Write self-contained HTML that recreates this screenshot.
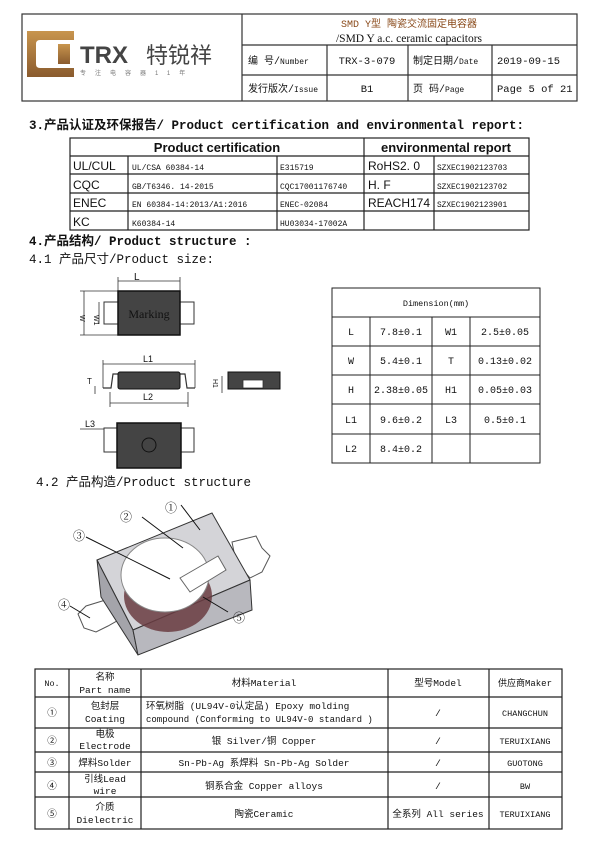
<!DOCTYPE html>
<html><head><meta charset="utf-8"><style>
body{margin:0;background:#fff;}
svg{display:block;}
text{font-family:"Liberation Sans","Noto Sans CJK SC",sans-serif;fill:#111;}
text.m,.m text{font-family:"Liberation Mono","Noto Sans CJK SC",monospace;}
text.s,.s text{font-family:"Liberation Serif","Noto Serif CJK SC",serif;}
</style></head><body>
<svg width="600" height="842" viewBox="0 0 600 842" xmlns="http://www.w3.org/2000/svg">
<defs>
<linearGradient id="g" x1="0" y1="0" x2="0" y2="1"><stop offset="0" stop-color="#c8954e"/><stop offset="1" stop-color="#8a5b2e"/></linearGradient>
</defs>
<!-- header -->
<g stroke="#333" stroke-width="1.2" fill="none">
<rect x="22" y="14" width="555" height="87"/>
<line x1="242" y1="14" x2="242" y2="101"/>
<line x1="242" y1="45" x2="577" y2="45"/>
<line x1="242" y1="75" x2="577" y2="75"/>
<line x1="327" y1="45" x2="327" y2="101"/>
<line x1="408" y1="45" x2="408" y2="101"/>
<line x1="492" y1="45" x2="492" y2="101"/>
</g>
<rect x="27" y="31" width="47" height="46" fill="url(#g)"/>
<path d="M40 40 H74 V68 H40 Q36 68 36 64 V44 Q36 40 40 40Z" fill="#fff"/>
<rect x="58" y="44" width="12" height="20" fill="url(#g)"/>
<text x="80" y="63" font-size="24" font-weight="bold" style="fill:#444">TRX</text>
<text x="146" y="63" font-size="22" style="fill:#444">特锐祥</text>
<text x="80" y="75" font-size="6" style="fill:#777" letter-spacing="9">专注电容器11年</text>
<text x="409" y="27" font-size="10" text-anchor="middle" class="m" style="fill:#8a4a1a">SMD Y型 陶瓷交流固定电容器</text>
<text x="409" y="42" font-size="11.5" text-anchor="middle" class="s">/SMD Y a.c. ceramic capacitors</text>
<g class="m">
<text x="248" y="64" font-size="10">编  号/<tspan font-size="8">Number</tspan></text>
<text x="367" y="64" font-size="10.5" text-anchor="middle">TRX-3-079</text>
<text x="413" y="64" font-size="10">制定日期/<tspan font-size="8">Date</tspan></text>
<text x="497" y="64" font-size="10.5">2019-09-15</text>
<text x="248" y="92" font-size="10">发行版次/<tspan font-size="8">Issue</tspan></text>
<text x="367" y="92" font-size="10.5" text-anchor="middle">B1</text>
<text x="413" y="92" font-size="10">页  码/<tspan font-size="8">Page</tspan></text>
<text x="497" y="92" font-size="10.5">Page 5 of 21</text>
</g>

<!-- section 3 -->
<text x="29" y="129" font-size="12.5" font-weight="bold" class="m">3.产品认证及环保报告/ Product certification and environmental report:</text>
<g stroke="#222" stroke-width="1.2" fill="none">
<rect x="70" y="138" width="459" height="92"/>
<line x1="70" y1="156" x2="529" y2="156"/>
<line x1="70" y1="174" x2="529" y2="174"/>
<line x1="70" y1="193" x2="529" y2="193"/>
<line x1="70" y1="211" x2="529" y2="211"/>
<line x1="128" y1="156" x2="128" y2="230"/>
<line x1="277" y1="156" x2="277" y2="230"/>
<line x1="364" y1="138" x2="364" y2="230"/>
<line x1="434" y1="156" x2="434" y2="230"/>
</g>
<text x="217" y="152" font-size="13" font-weight="bold" text-anchor="middle">Product certification</text>
<text x="446" y="152" font-size="13" font-weight="bold" text-anchor="middle">environmental report</text>
<g font-size="12"><text x="73" y="170">UL/CUL</text><text x="73" y="189">CQC</text><text x="73" y="207">ENEC</text><text x="73" y="226">KC</text>
<text x="368" y="170">RoHS2. 0</text><text x="368" y="189">H. F</text><text x="368" y="207">REACH174</text></g>
<g font-size="8" class="m"><text x="132" y="170">UL/CSA 60384-14</text><text x="132" y="189">GB/T6346. 14-2015</text><text x="132" y="207">EN 60384-14:2013/A1:2016</text><text x="132" y="226">K60384-14</text>
<text x="280" y="170">E315719</text><text x="280" y="189">CQC17001176740</text><text x="280" y="207">ENEC-02084</text><text x="280" y="226">HU03034-17002A</text>
<text x="437" y="170" font-size="7.8">SZXEC1902123703</text><text x="437" y="189" font-size="7.8">SZXEC1902123702</text><text x="437" y="207" font-size="7.8">SZXEC1902123901</text></g>

<text x="29" y="245" font-size="12.5" font-weight="bold" class="m">4.产品结构/ Product structure :</text>
<text x="29" y="263" font-size="12.5" class="m">4.1 产品尺寸/Product size:</text>

<!-- drawings -->
<g stroke="#333" stroke-width="0.8" fill="none">
<line x1="118" y1="281" x2="180" y2="281"/><line x1="118" y1="277" x2="118" y2="291"/><line x1="180" y1="277" x2="180" y2="291"/>
<line x1="84" y1="291" x2="84" y2="335"/><line x1="80" y1="291" x2="118" y2="291"/><line x1="80" y1="335" x2="118" y2="335"/>
<line x1="99" y1="302" x2="99" y2="324"/>
<line x1="103" y1="364" x2="195" y2="364"/><line x1="103" y1="360" x2="103" y2="388"/><line x1="195" y1="360" x2="195" y2="388"/>
<line x1="110" y1="403" x2="188" y2="403"/><line x1="110" y1="392" x2="110" y2="407"/><line x1="188" y1="392" x2="188" y2="407"/>
<line x1="95" y1="386" x2="95" y2="394"/><line x1="222" y1="376" x2="222" y2="393"/>
<line x1="80" y1="429" x2="120" y2="429"/>
</g>
<text x="134" y="280" font-size="10">L</text>
<text x="80" y="315" font-size="7" transform="rotate(90 80 315)">W</text>
<text x="94" y="315" font-size="7" transform="rotate(90 94 315)">W1</text>
<text x="143" y="362" font-size="9">L1</text>
<text x="143" y="400" font-size="9">L2</text>
<text x="87" y="384" font-size="8">T</text>
<text x="213" y="379" font-size="7" transform="rotate(90 213 379)">H1</text>
<text x="85" y="427" font-size="9">L3</text>
<g fill="#fff" stroke="#333" stroke-width="1"><rect x="104" y="302" width="14" height="22"/><rect x="180" y="302" width="14" height="22"/>
<rect x="104" y="428" width="14" height="24"/><rect x="180" y="428" width="14" height="24"/></g>
<rect x="118" y="291" width="62" height="44" fill="#444" stroke="#111" stroke-width="1.5"/>
<text x="149" y="318" font-size="12" text-anchor="middle" class="s" style="fill:#111">Marking</text>
<path d="M103 388 H111 L113 374 H185 L187 388 H195" fill="none" stroke="#333" stroke-width="1.2"/>
<rect x="118" y="372" width="62" height="17" rx="2" fill="#444" stroke="#111"/>
<rect x="228" y="372" width="52" height="17" fill="#444" stroke="#111"/>
<rect x="243" y="380" width="20" height="8" fill="#fff" stroke="#333" stroke-width="0.8"/>
<rect x="117" y="423" width="64" height="45" fill="#444" stroke="#111" stroke-width="1.5"/>
<circle cx="149" cy="445" r="7" fill="none" stroke="#111" stroke-width="1"/>

<!-- dimension table -->
<g stroke="#222" stroke-width="1" fill="none">
<rect x="332" y="288" width="208" height="175"/>
<line x1="332" y1="317" x2="540" y2="317"/><line x1="332" y1="346" x2="540" y2="346"/><line x1="332" y1="375" x2="540" y2="375"/><line x1="332" y1="404" x2="540" y2="404"/><line x1="332" y1="434" x2="540" y2="434"/>
<line x1="370" y1="317" x2="370" y2="463"/><line x1="432" y1="317" x2="432" y2="463"/><line x1="470" y1="317" x2="470" y2="463"/>
</g>
<g font-size="10" class="m" text-anchor="middle">
<text x="436" y="306" font-size="8.5">Dimension(mm)</text>
<text x="351" y="335">L</text><text x="401" y="335">7.8±0.1</text><text x="451" y="335">W1</text><text x="505" y="335">2.5±0.05</text>
<text x="351" y="364">W</text><text x="401" y="364">5.4±0.1</text><text x="451" y="364">T</text><text x="505" y="364">0.13±0.02</text>
<text x="351" y="393">H</text><text x="401" y="393">2.38±0.05</text><text x="451" y="393">H1</text><text x="505" y="393">0.05±0.03</text>
<text x="351" y="423">L1</text><text x="401" y="423">9.6±0.2</text><text x="451" y="423">L3</text><text x="505" y="423">0.5±0.1</text>
<text x="351" y="452">L2</text><text x="401" y="452">8.4±0.2</text>
</g>

<text x="36" y="486" font-size="12.5" class="m">4.2 产品构造/Product structure</text>
<!-- 3D image -->
<path d="M232 542 L256 536 L262 548 L270 556 L262 572 L250 578 L236 562Z" fill="#fff" stroke="#555"/>
<path d="M112 598 L86 606 L78 614 L84 628 L96 632 L108 626 L122 618Z" fill="#fff" stroke="#555"/>
<path d="M97 560 L212 513 L250 580 L133 630Z" fill="#d4d4d8" stroke="#333"/>
<path d="M97 560 L133 630 L138 655 L101 597Z" fill="#a4a4aa" stroke="#333"/>
<path d="M133 630 L250 580 L252 610 L138 655Z" fill="#b8b8be" stroke="#333"/>
<ellipse cx="168" cy="596" rx="44" ry="36" fill="#6a3c42" opacity="0.85"/>
<ellipse cx="165" cy="575" rx="44" ry="37" fill="#fff" stroke="#888"/>
<path d="M180 578 L218 556 L226 570 L190 592Z" fill="#fff" stroke="#666"/>
<g stroke="#111" stroke-width="1"><line x1="181" y1="505" x2="200" y2="530"/><line x1="142" y1="517" x2="183" y2="548"/><line x1="86" y1="537" x2="170" y2="579"/><line x1="70" y1="606" x2="90" y2="618"/><line x1="228" y1="612" x2="203" y2="597"/></g>
<g font-size="12" class="s"><text x="165" y="512">①</text><text x="120" y="521">②</text><text x="73" y="540">③</text><text x="58" y="609">④</text><text x="233" y="622">⑤</text></g>

<!-- bottom table -->
<g stroke="#222" stroke-width="1.2" fill="none">
<rect x="35" y="669" width="527" height="160"/>
<line x1="35" y1="697" x2="562" y2="697"/><line x1="35" y1="728" x2="562" y2="728"/><line x1="35" y1="752" x2="562" y2="752"/><line x1="35" y1="772" x2="562" y2="772"/><line x1="35" y1="797" x2="562" y2="797"/>
<line x1="69" y1="669" x2="69" y2="829"/><line x1="141" y1="669" x2="141" y2="829"/><line x1="388" y1="669" x2="388" y2="829"/><line x1="489" y1="669" x2="489" y2="829"/>
</g>
<g font-size="9.5" class="m" text-anchor="middle">
<text x="52" y="686" font-size="8.5">No.</text><text x="105" y="680">名称</text><text x="105" y="693">Part name</text>
<text x="264" y="686">材料Material</text><text x="438" y="686">型号Model</text><text x="525" y="686" font-size="9">供应商Maker</text>
<text x="52" y="716">①</text><text x="105" y="709">包封层</text><text x="105" y="722">Coating</text>
<text x="146" y="709" text-anchor="start">环氧树脂 (UL94V-0认定品) Epoxy molding</text><text x="146" y="722" text-anchor="start" font-size="9">compound  (Conforming to UL94V-0 standard )</text>
<text x="438" y="716">/</text><text x="525" y="716" font-size="8.5">CHANGCHUN</text>
<text x="52" y="744">②</text><text x="105" y="737">电极</text><text x="105" y="749">Electrode</text>
<text x="264" y="744">银 Silver/铜 Copper</text><text x="438" y="744">/</text><text x="525" y="744" font-size="8.5">TERUIXIANG</text>
<text x="52" y="766">③</text><text x="105" y="766">焊料Solder</text><text x="264" y="766">Sn-Pb-Ag 系焊料  Sn-Pb-Ag Solder</text><text x="438" y="766">/</text><text x="525" y="766" font-size="8.5">GUOTONG</text>
<text x="52" y="789">④</text><text x="105" y="782">引线Lead</text><text x="105" y="794">wire</text>
<text x="264" y="789">铜系合金 Copper alloys</text><text x="438" y="789">/</text><text x="525" y="789" font-size="8.5">BW</text>
<text x="52" y="817">⑤</text><text x="105" y="810">介质</text><text x="105" y="823">Dielectric</text>
<text x="264" y="817">陶瓷Ceramic</text><text x="438" y="817">全系列 All series</text><text x="525" y="817" font-size="8.5">TERUIXIANG</text>
</g>
</svg>
</body></html>
